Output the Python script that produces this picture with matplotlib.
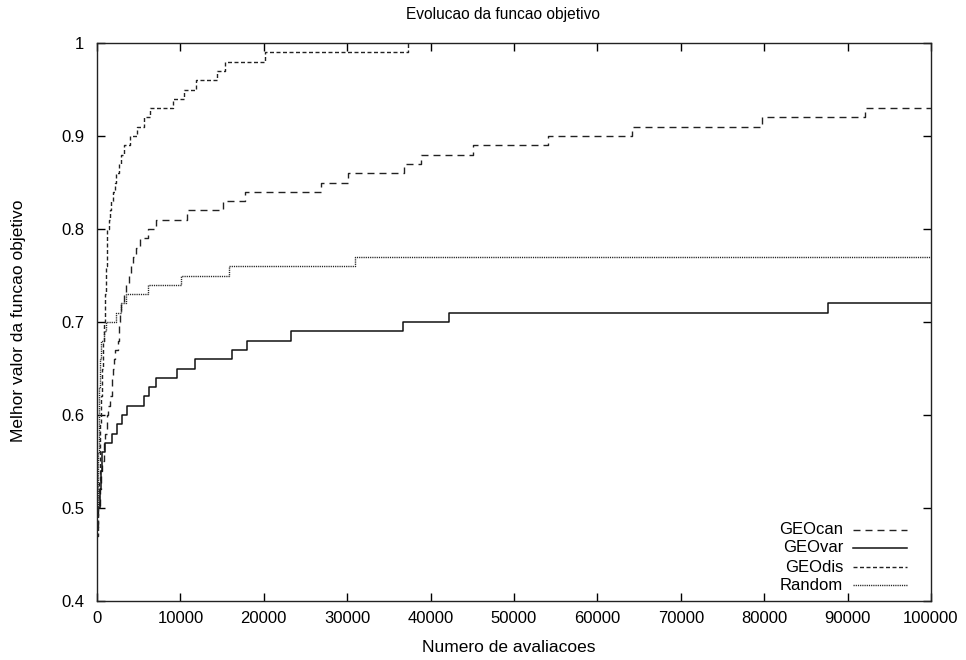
import matplotlib
matplotlib.use("Agg")
import matplotlib.pyplot as plt
from matplotlib.ticker import FormatStrFormatter
from matplotlib.lines import Line2D

# ---------------- data ----------------
geocan_x = [0, 150, 300, 450, 600, 800, 1000, 1150, 1250, 1350,
            1550, 1750, 1850, 1950, 2050, 2200, 2550, 2600, 2700, 2900,
            3250, 3500, 3850, 4100, 4350, 4700, 5150, 6100, 7100, 10750,
            15150, 17750, 26800, 30100, 36800, 38900, 45100, 54100, 64100, 79700,
            92100, 100000]
geocan_y = [0.48, 0.50, 0.52, 0.54, 0.55, 0.57, 0.58, 0.59, 0.60, 0.61,
            0.62, 0.63, 0.64, 0.65, 0.66, 0.67, 0.68, 0.70, 0.71, 0.72,
            0.73, 0.74, 0.75, 0.76, 0.77, 0.78, 0.79, 0.80, 0.81, 0.82,
            0.83, 0.84, 0.85, 0.86, 0.87, 0.88, 0.89, 0.90, 0.91, 0.92,
            0.93, 0.93]

geovar_x = [0, 150, 300, 450, 550, 650, 900, 1830, 2430, 3030, 3630, 5600,
            6240, 7040, 9630, 11750, 16150, 17950, 23250, 36700, 42250, 87600,
            100000]
geovar_y = [0.49, 0.50, 0.52, 0.54, 0.55, 0.56, 0.57, 0.58, 0.59, 0.60, 0.61, 0.62,
            0.63, 0.64, 0.65, 0.66, 0.67, 0.68, 0.69, 0.70, 0.71, 0.72,
            0.72]

geodis_x = [0, 100, 200, 300, 400, 500, 600, 700, 850, 950,
            1050, 1150, 1250, 1400, 1550, 1700, 1900, 2100, 2300, 2600,
            2900, 3200, 3900, 4800, 5600, 6300, 9100, 10400, 11900, 14400,
            15300, 20200, 37300]
geodis_y = [0.47, 0.50, 0.53, 0.56, 0.59, 0.62, 0.65, 0.68, 0.70, 0.73,
            0.76, 0.79, 0.80, 0.81, 0.82, 0.83, 0.84, 0.85, 0.86, 0.87,
            0.88, 0.89, 0.90, 0.91, 0.92, 0.93, 0.94, 0.95, 0.96, 0.97,
            0.98, 0.99, 1.00]

random_x = [0, 60, 120, 180, 250, 350, 500, 800, 1040, 2250, 2900, 3440,
            6150, 10100, 15800, 30950, 100000]
random_y = [0.50, 0.52, 0.56, 0.60, 0.63, 0.66, 0.68, 0.69, 0.70, 0.71, 0.72, 0.73,
            0.74, 0.75, 0.76, 0.77, 0.77]

series_names = ["GEOcan", "GEOvar", "GEOdis", "Random"]
x_ticks = [0, 10000, 20000, 30000, 40000, 50000, 60000, 70000, 80000, 90000, 100000]
y_ticks = [0.4, 0.5, 0.6, 0.7, 0.8, 0.9, 1.0]

title_text = "Evolucao da funcao objetivo"
xlabel_text = "Numero de avaliacoes"
ylabel_text = "Melhor valor da funcao objetivo"

# ---------------- styling ----------------
plt.rcParams['font.family'] = ['Liberation Sans', 'DejaVu Sans']
plt.rcParams['lines.scale_dashes'] = False
PX = 72.0 / 100.0  # points per pixel at dpi 100

styles = {
    "GEOcan": dict(color="#222222", lw=1.0, dashes=(7 * PX, 5 * PX)),
    "GEOvar": dict(color="#111111", lw=1.1, linestyle="-"),
    "GEOdis": dict(color="#222222", lw=1.0, dashes=(4 * PX, 2.5 * PX)),
    "Random": dict(color="#222222", lw=1.0, dashes=(1.2 * PX, 1.0 * PX)),
}

W, H = 966, 660
fig = plt.figure(figsize=(W / 100, H / 100), dpi=100)
fig.patch.set_facecolor("white")
ax = fig.add_axes([97 / W, 1 - 601 / H, (931 - 97) / W, (601 - 43) / H])

data = {
    "GEOcan": (geocan_x, geocan_y),
    "GEOvar": (geovar_x, geovar_y),
    "GEOdis": (geodis_x, geodis_y),
    "Random": (random_x, random_y),
}
for name in series_names:
    xs, ys = data[name]
    ax.plot(xs, ys, drawstyle="steps-post", **styles[name])

ax.set_xlim(0, 100000)
ax.set_ylim(0.4, 1.0)
ax.set_xticks(x_ticks)
ax.set_yticks(y_ticks)
ax.xaxis.set_major_formatter(FormatStrFormatter("%d"))
ax.yaxis.set_major_formatter(FormatStrFormatter("%g"))
ax.tick_params(direction="in", length=6, width=1, top=True, right=True,
               labelsize=12, colors="black")
ax.tick_params(axis="x", pad=7)
ax.tick_params(axis="y", pad=9)
for s in ax.spines.values():
    s.set_linewidth(1.0)
    s.set_color("#222222")

fig.text(503 / W, 1 - 14 / H, title_text, ha="center", va="center", fontsize=11.2)
fig.text(509 / W, 1 - 648 / H, xlabel_text, ha="center", va="center", fontsize=12.5)
fig.text(19 / W, 1 - 321 / H, ylabel_text, ha="center", va="center",
         rotation=90, fontsize=12.5)

# legend (right-aligned labels followed by line samples)
leg_rows = [530, 548, 567, 585]
for name, ry in zip(series_names, leg_rows):
    yy = 1 - ry / H
    fig.text(843 / W, yy, name, ha="right", va="center", fontsize=12)
    st = dict(styles[name])
    ln = Line2D([853 / W, 907 / W], [yy, yy], transform=fig.transFigure, **st)
    fig.add_artist(ln)

fig.savefig("out.png", dpi=100)
